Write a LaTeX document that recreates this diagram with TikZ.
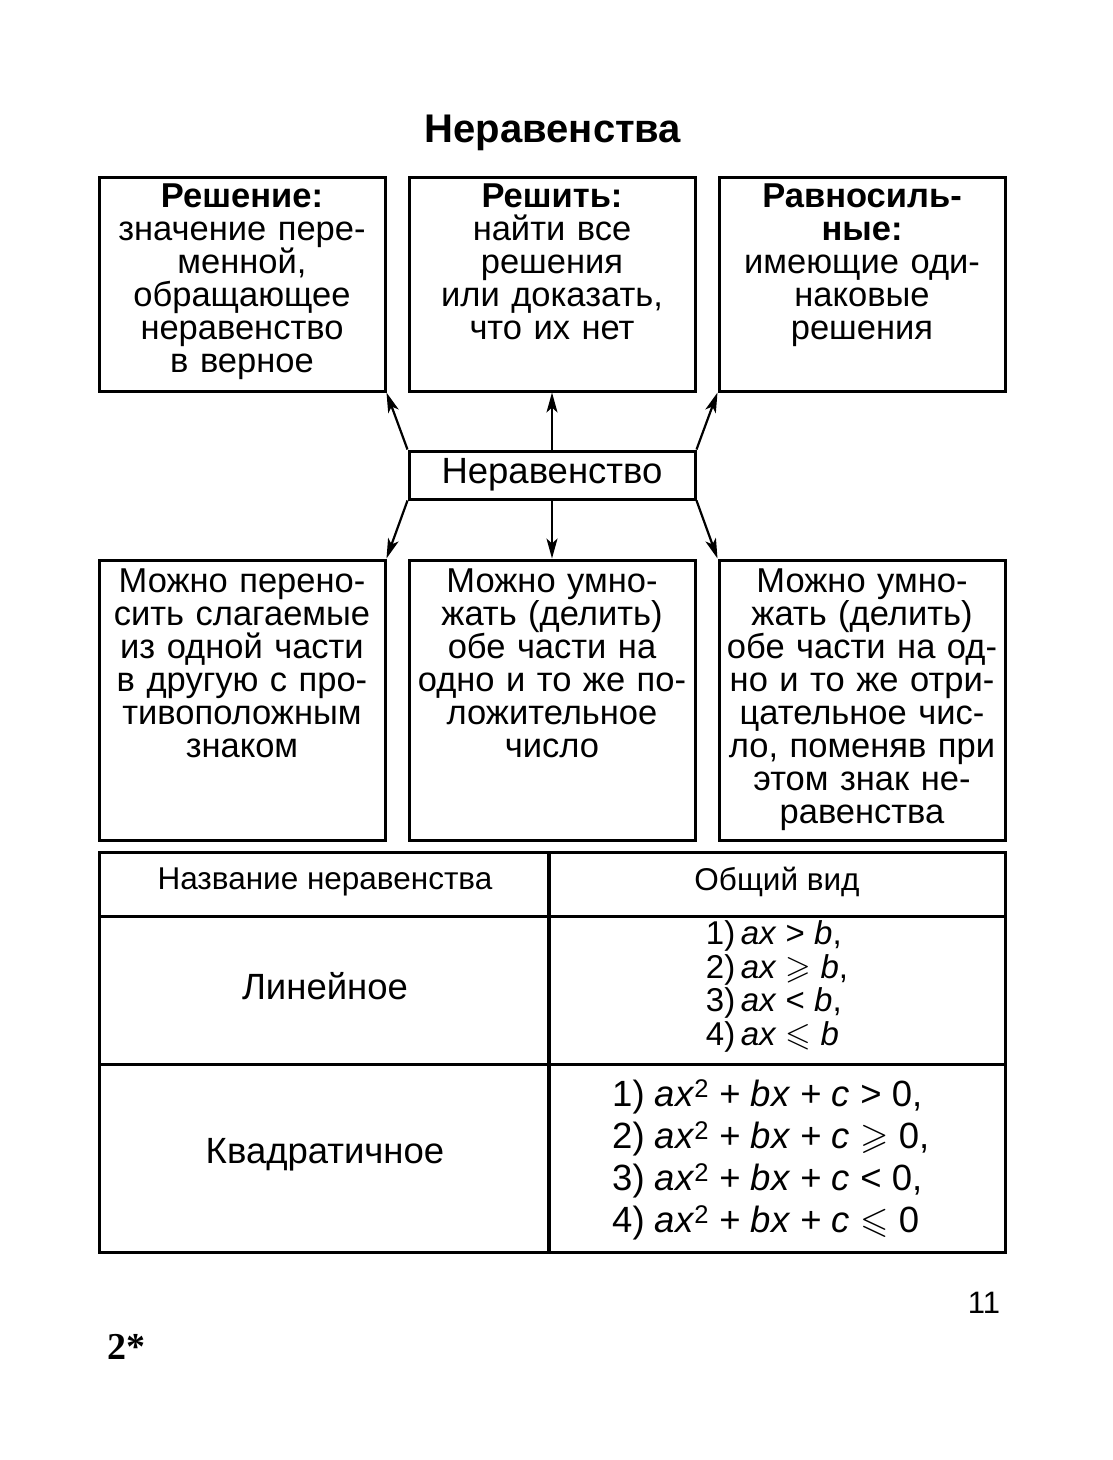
\documentclass[tikz,border=0pt]{standalone}
\usepackage{fontspec}
\usepackage{amssymb}
\setmainfont{Liberation Sans}
\newfontfamily\pagefont{Liberation Serif}
\usetikzlibrary{positioning,arrows.meta}

\tikzset{
  box/.style={draw, line width=3pt, minimum width=286pt, inner sep=0pt},
  boxtext/.style={align=center, text width=280pt, inner sep=0pt, font=\fontsize{34.5}{33}\selectfont},
  arr/.style={line width=2.2pt, -{Stealth[length=20pt,width=11pt,inset=5pt]}},
  celltext/.style={font=\fontsize{36.5}{36.5}\selectfont},
}

\begin{document}
\begin{tikzpicture}[x=1pt,y=-1pt]
  \useasboundingbox (0,0) rectangle (1113,1460);

  \node[font=\bfseries\fontsize{40}{40}\selectfont] (title) at (553,133) {Неравенства};

  % top row
  \node[box, minimum height=214pt] (resh) at (242,284) {};
  \node[box, minimum height=214pt] (reshit) at (552,284) {};
  \node[box, minimum height=214pt] (ravn) at (862,284) {};
  \node[boxtext, below=8pt of resh.north] {\textbf{Решение:}\\значение пере-\\менной,\\обращающее\\неравенство\\в верное};
  \node[boxtext, below=8pt of reshit.north] {\textbf{Решить:}\\найти все\\решения\\или доказать,\\что их нет};
  \node[boxtext, below=8pt of ravn.north] {\textbf{Равносиль-}\\\textbf{ные:}\\имеющие оди-\\наковые\\решения};

  % centre
  \node[box, minimum height=48pt, font=\fontsize{36.5}{36.5}\selectfont] (neq) at (552,475) {Неравенство};

  % bottom row
  \node[box, minimum height=280pt] (perenos) at (242,700) {};
  \node[box, minimum height=280pt] (plus) at (552,700) {};
  \node[box, minimum height=280pt] (minus) at (862,700) {};
  \node[boxtext, below=10pt of perenos.north] {Можно перено-\\сить слагаемые\\из одной части\\в другую с про-\\тивоположным\\знаком};
  \node[boxtext, below=10pt of plus.north] {Можно умно-\\жать (делить)\\обе части на\\одно и то же по-\\ложительное\\число};
  \node[boxtext, below=10pt of minus.north] {Можно умно-\\жать (делить)\\обе части на од-\\но и то же отри-\\цательное чис-\\ло, поменяв при\\этом знак не-\\равенства};

  \draw[arr] (neq.north west) -- (resh.south east);
  \draw[arr] (neq.north) -- (reshit.south);
  \draw[arr] (neq.north east) -- (ravn.south west);
  \draw[arr] (neq.south west) -- (perenos.north east);
  \draw[arr] (neq.south) -- (plus.north);
  \draw[arr] (neq.south east) -- (minus.north west);

  % table
  \draw[line width=3pt] (99,852) rectangle (1005,1252);
  \draw[line width=3.5pt] (549,852) -- (549,1252);
  \draw[line width=3pt] (99,916) -- (1005,916);
  \draw[line width=3pt] (99,1064) -- (1005,1064);

  \node[font=\fontsize{31.5}{31.5}\selectfont] (hname) at (325,882) {Название неравенства};
  \node[font=\fontsize{31.5}{31.5}\selectfont] (hform) at (777,882) {Общий вид};
  \node[celltext] (lin) at (325,986) {Линейное};
  \node[celltext] (kvad) at (325,1155) {Квадратичное};
  \node[font=\fontsize{33}{32.5}\selectfont, inner sep=0pt] (linf) at (777,988) {%
    \begin{tabular}{@{}r@{\,}l@{}}
      1) & \textit{ax} > \textit{b},\\
      2) & \textit{ax} $\geqslant$ \textit{b},\\
      3) & \textit{ax} < \textit{b},\\
      4) & \textit{ax} $\leqslant$ \textit{b}
    \end{tabular}};
  \node[font=\fontsize{36.5}{42}\selectfont, align=left, inner sep=0pt, anchor=west] (kvadf) at (612,1160) {%
    1) \textit{ax}\textsuperscript{2} + \textit{bx} + \textit{c} > 0,\\
    2) \textit{ax}\textsuperscript{2} + \textit{bx} + \textit{c} $\geqslant$ 0,\\
    3) \textit{ax}\textsuperscript{2} + \textit{bx} + \textit{c} < 0,\\
    4) \textit{ax}\textsuperscript{2} + \textit{bx} + \textit{c} $\leqslant$ 0};

  \node[font=\fontsize{31}{31}\selectfont] (pnum) at (984,1303) {11};
  \node[font=\pagefont\bfseries\fontsize{38}{38}\selectfont] (sig) at (126,1347) {2*};
\end{tikzpicture}
\end{document}
